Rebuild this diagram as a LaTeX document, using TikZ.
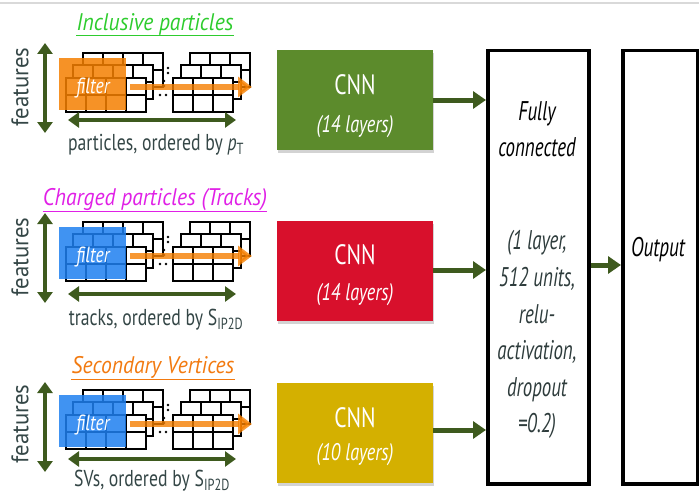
\documentclass[tikz,border=0pt]{standalone}
\usepackage{fontspec}
\setmainfont{PT Sans}
\usetikzlibrary{arrows.meta,shadows}
\definecolor{arrowgreen}{HTML}{3E5A1E}
\definecolor{txtgray}{HTML}{344646}
\definecolor{incgreen}{HTML}{2ECC2E}
\definecolor{chmag}{HTML}{E020E6}
\definecolor{svorange}{HTML}{F27A10}
\definecolor{filtorange}{HTML}{F57F00}
\definecolor{filtblue}{HTML}{1E80F0}
\definecolor{cnngreen}{HTML}{5C8B2C}
\definecolor{cnnred}{HTML}{D8102C}
\definecolor{cnnyellow}{HTML}{D4B000}
\definecolor{fctext}{HTML}{2E3C3C}
\newcommand{\sq}[2][0.75]{\scalebox{#1}[1]{#2}}
\newcommand{\gridlayer}[4]{%
  \draw[gridline, fill=white] (#1,#2) rectangle ++(#3*20,34);
  \foreach \i in {1,...,#4} \draw[gridline] (#1+\i*20,#2) -- ++(0,34);
  \draw[gridline] (#1,#2+17) -- ++(#3*20,0);}
\newcommand{\datarow}[3]{%
  \begin{scope}[shift={(0,#1)}]
    \gridlayer{83}{53}{4}{3}
    \gridlayer{73}{65}{4}{3}
    \gridlayer{66}{78}{4}{3}
    \gridlayer{190}{53}{3}{2}
    \gridlayer{181}{65}{3}{2}
    \gridlayer{173}{78}{3}{2}
    \foreach \px/\py in {168/68,168/73,164/81,164/86,160/95,166/95}
      \fill (\px,\py) circle (1.3);
    \fill[#2, opacity=0.85] (59,58) rectangle (126,110);
    \node[filtertext] (filt#3) at (93,88) {\sq[0.8]{filter}};
    \coordinate (fa#3) at (130,87);
    \coordinate (fb#3) at (252,87);
    \draw[filterarrow] (fa#3) -- (fb#3);
  \end{scope}}
\begin{document}
\begin{tikzpicture}[x=1pt,y=-1pt,
  gridline/.style={draw=black, line width=1.6},
  dblarrow/.style={arrowgreen, line width=4, {Triangle[length=11pt,width=15pt]}-{Triangle[length=11pt,width=15pt]}},
  flowarrow/.style={arrowgreen, line width=5, -{Triangle[length=13pt,width=17pt]}},
  filterarrow/.style={filtorange, opacity=0.8, line width=6, -{Triangle[length=14pt,width=20pt]}},
  filtertext/.style={text=white, inner sep=0, font=\fontsize{22}{24}\selectfont\itshape},
  title/.style={inner sep=0, anchor=south, font=\fontsize{24}{26}\selectfont\itshape},
  featlabel/.style={inner sep=0, rotate=90, text=txtgray, font=\fontsize{24}{26}\selectfont},
  axislabel/.style={inner sep=0, text=txtgray, font=\fontsize{23}{25}\selectfont},
  cnnbox/.style={minimum width=156, minimum height=100, inner sep=0, anchor=north west,
    drop shadow={opacity=0.35, shadow xshift=1pt, shadow yshift=-3pt}},
  cnntitle/.style={inner sep=0, text=white, font=\fontsize{28}{30}\selectfont},
  cnnsub/.style={inner sep=0, text=white, font=\fontsize{24}{26}\selectfont\itshape},
  bigbox/.style={draw=black, line width=3.5, anchor=north west, inner sep=0},
  fcfont/.style={inner sep=0, font=\fontsize{27}{36.6}\selectfont\itshape}
]
\useasboundingbox (0,0) rectangle (699,495);
\draw[gray!30, line width=1.2] (0,3) -- (699,3);

% data rows
\datarow{0}{filtorange}{1}
\datarow{169}{filtblue}{2}
\datarow{337}{filtblue}{3}

% titles
\node[title, text=incgreen] (t1) at (155,36) {\sq[0.9]{Inclusive particles}};
\draw[incgreen, line width=1] (t1.south west) -- (t1.south east);
\node[title, text=chmag] (t2) at (155,211) {\sq[0.9]{Charged particles (Tracks)}};
\draw[chmag, line width=1] (t2.south west) -- (t2.south east);
\node[title, text=svorange] (t3) at (153,379) {\sq[0.9]{Secondary Vertices}};
\draw[svorange, line width=1] (t3.south west) -- (t3.south east);

% features arrows
\foreach \k/\ya/\yb/\yc in {1/43/133/87, 2/213/303/257, 3/382/472/424}{
  \coordinate (fu\k) at (45,\ya);
  \coordinate (fd\k) at (45,\yb);
  \draw[dblarrow] (fu\k) -- (fd\k);
  \node[featlabel] (feat\k) at (20,\yc) {\sq[0.95]{features}};
}
% horizontal arrows
\foreach \k/\y in {1/120, 2/294, 3/459}{
  \coordinate (hl\k) at (68,\y);
  \coordinate (hr\k) at (236,\y);
  \draw[dblarrow] (hl\k) -- (hr\k);
}
\node[axislabel] (lab1) at (156,145) {\sq[0.77]{particles, ordered by \textit{p}\textsubscript{T}}};
\node[axislabel] (lab2) at (156,320) {\sq[0.77]{tracks, ordered by S\textsubscript{IP2D}}};
\node[axislabel] (lab3) at (152,481) {\sq[0.77]{SVs, ordered by S\textsubscript{IP2D}}};

% CNN boxes
\node[cnnbox, fill=cnngreen] (cnn1) at (277,50) {};
\node[cnnbox, fill=cnnred] (cnn2) at (277,221) {};
\node[cnnbox, fill=cnnyellow] (cnn3) at (277,383) {};
\node[cnntitle] (c1a) at (355,85) {\sq[0.77]{CNN}};
\node[cnnsub] (c1b) at (355,127) {\sq[0.76]{(14 layers)}};
\node[cnntitle] (c2a) at (355,255) {\sq[0.77]{CNN}};
\node[cnnsub] (c2b) at (355,295) {\sq[0.76]{(14 layers)}};
\node[cnntitle] (c3a) at (355,418) {\sq[0.77]{CNN}};
\node[cnnsub] (c3b) at (355,455) {\sq[0.76]{(10 layers)}};

% fully connected and output
\node[bigbox, minimum width=101, minimum height=433] (fc) at (486,49) {};
\node[bigbox, minimum width=75, minimum height=433] (out) at (621,49) {};
\node[fcfont, text=black] (fctop) at (537,131) {\sq[0.7]{\begin{tabular}{@{}c@{}}Fully\\connected\end{tabular}}};
\node[fcfont, text=fctext] (fcbot) at (537,334) {\sq[0.7]{\begin{tabular}{@{}c@{}}(1 layer,\\512 units,\\relu-\\activation,\\dropout\\=0.2)\end{tabular}}};
\node[fcfont, text=black] (outtxt) at (658,250) {\sq[0.71]{Output}};

% flow arrows
\draw[flowarrow] (cnn1.east |- 0,100) -- (fc.west |- 0,100);
\draw[flowarrow] (cnn2.east |- 0,270) -- (fc.west |- 0,270);
\draw[flowarrow] (cnn3.east |- 0,430) -- (fc.west |- 0,430);
\draw[flowarrow] (fc.east |- 0,265) -- (out.west |- 0,265);
\end{tikzpicture}
\end{document}
